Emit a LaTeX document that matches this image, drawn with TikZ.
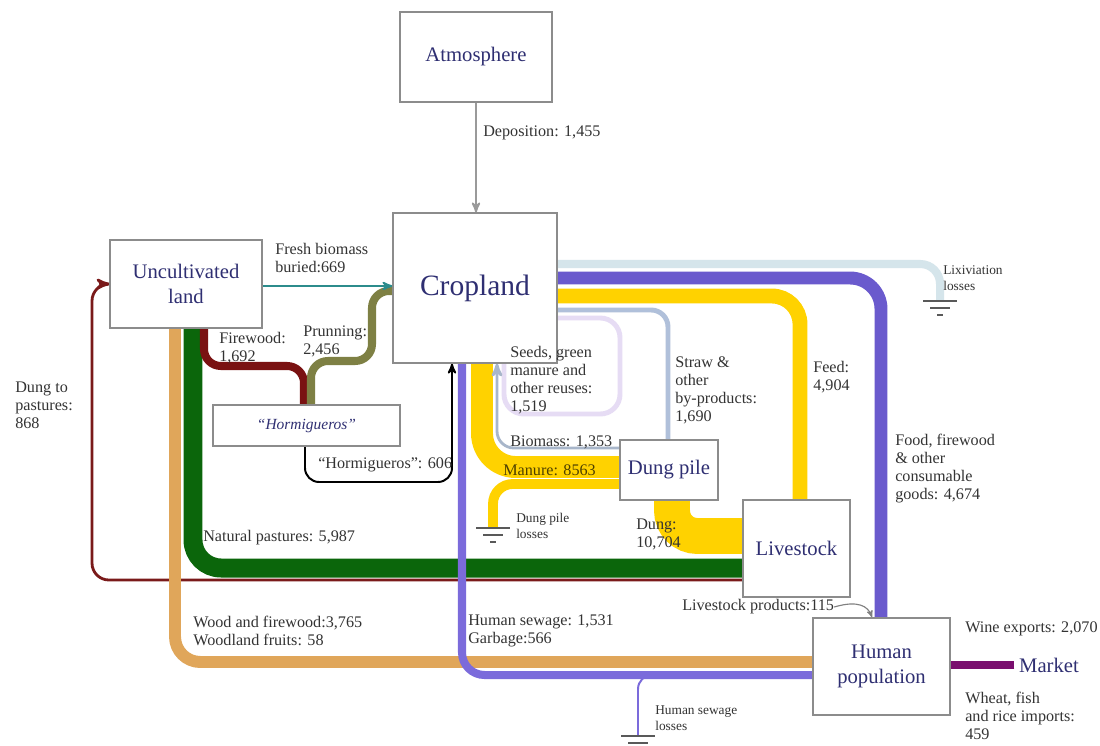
\documentclass[tikz,border=0pt]{standalone}
\usepackage{fontspec}
\setmainfont{Liberation Serif}
\usepackage{xcolor}
\usepackage{tikz}
\usetikzlibrary{arrows,backgrounds,positioning}

\definecolor{boxtext}{HTML}{2F2F72}
\definecolor{boxline}{HTML}{8C8C8C}
\definecolor{lbltext}{HTML}{333333}
\definecolor{manuretext}{HTML}{4D4000}
\definecolor{cDep}{HTML}{9A9A9A}
\definecolor{cTeal}{HTML}{2C8C8C}
\definecolor{cOlive}{HTML}{7E8044}
\definecolor{cMaroon}{HTML}{7A1212}
\definecolor{cDungRed}{HTML}{7A1A1A}
\definecolor{cGreen}{HTML}{0B660B}
\definecolor{cTan}{HTML}{E0A65A}
\definecolor{cPurple}{HTML}{6A5ACD}
\definecolor{cSewage}{HTML}{7B6BDB}
\definecolor{cLix}{HTML}{D5E5EB}
\definecolor{cGold}{HTML}{FFD200}
\definecolor{cStraw}{HTML}{B0C0DA}
\definecolor{cSeeds}{HTML}{E6DCF4}
\definecolor{cBiomass}{HTML}{A8B6CA}
\definecolor{cWine}{HTML}{7A0E6E}

\tikzset{earthsym/.pic={
    \draw[line width=1pt, black!65] (-17,0) -- (17,0) (-10,7) -- (10,7) (-3,14) -- (3,14);
  }}

\begin{document}
\begin{tikzpicture}[x=0.025cm, y=-0.025cm,
    >=stealth',
    every node/.style={text=lbltext}]
  \tikzstyle{block}=[draw=boxline, line width=0.9pt, fill=white, text=boxtext,
    font=\fontsize{14.7}{17.5}\selectfont, align=center, inner sep=0pt]
  \tikzstyle{lbl}=[anchor=west, inner sep=0pt, align=left, font=\fontsize{11.5}{12.8}\selectfont]
  \tikzstyle{lblsmall}=[lbl, font=\fontsize{9.5}{11}\selectfont]

  \useasboundingbox (0,0) rectangle (1100,745);

  \node (atm) [block, minimum width=3.8cm, minimum height=2.25cm] at (476,57) {Atmosphere};
  \node (crp) [block, minimum width=4.1cm, minimum height=3.75cm, font=\fontsize{21}{24}\selectfont] at (475,288) {Cropland};
  \node (unc) [block, minimum width=3.8cm, minimum height=2.2cm] at (186,284) {Uncultivated\\land};
  \node (hrm) [block, minimum width=4.675cm, minimum height=1.025cm, font=\fontsize{11}{13}\selectfont\itshape] at (306.5,425.5) {“Hormigueros”};
  \node (dgp) [block, minimum width=2.45cm, minimum height=1.5cm] at (669,470) {Dung pile};
  \node (lvs) [block, minimum width=2.675cm, minimum height=2.425cm] at (796.5,548.5) {Livestock};
  \node (hum) [block, minimum width=3.425cm, minimum height=2.425cm] at (881.5,666.5) {Human\\population};
  \node (mkt) [block, draw=none, fill=none, inner sep=3pt] at (1049,665) {Market};

  \coordinate (lixg) at (940,301);
  \coordinate (dplg) at (493,528);
  \coordinate (swb)  at (655,675);
  \coordinate (sewg) at (638,736);

  \node (ldep) [lbl] at (483,133) {Deposition: 1,455};
  \node (lfrs) [lbl] at (275,258) {Fresh biomass\\buried:669};
  \node (lfwd) [lbl] at (219,348) {Firewood:\\1,692};
  \node (lprn) [lbl] at (303,341) {Prunning:\\2,456};
  \node (ldtp) [lbl] at (15,405) {Dung to\\pastures:\\868};
  \node (lnat) [lbl] at (203,538) {Natural pastures: 5,987};
  \node (lhrm) [lbl] at (318,465) {“Hormigueros”: 606};
  \node (lwod) [lbl] at (193,631) {Wood and firewood:3,765\\Woodland fruits: 58};
  \node (lsew) [lbl] at (468,631) {Human sewage: 1,531\\Garbage:566};
  \node (lswl) [lblsmall] at (655,718) {Human sewage\\losses};
  \node (lsds) [lbl] at (510,380) {Seeds, green\\manure and\\other reuses:\\1,519};
  \node (lbio) [lbl] at (510,442) {Biomass: 1,353};
  \node (lman) [lbl, text=manuretext] at (503,470) {Manure: 8563};
  \node (ldpl) [lblsmall] at (516,526) {Dung pile\\losses};
  \node (ldng) [lbl] at (636,534) {Dung:\\10,704};
  \node (lstr) [lbl] at (675,390) {Straw \&\\other\\by-products:\\1,690};
  \node (lfed) [lbl] at (813,377) {Feed:\\4,904};
  \node (lfod) [lbl] at (895,469) {Food, firewood\\\& other\\consumable\\goods: 4,674};
  \node (llix) [lblsmall] at (943,278) {Lixiviation\\losses};
  \node (llvp) [lbl] at (682,607) {Livestock products:115};
  \node (lwin) [lbl] at (965,629) {Wine exports: 2,070};
  \node (lwht) [lbl] at (965,716) {Wheat, fish\\and rice imports:\\459};

  \pic at (lixg) {earthsym};
  \pic at (dplg) {earthsym};
  \pic at (sewg) {earthsym};

  \begin{pgfonlayer}{background}
    \fill[white] (0,0) rectangle (1100,745);
    \draw[->, cDep, line width=1.4pt] (atm.south) -- (atm.south |- crp.north);
    \draw[->, cDungRed, line width=2pt, rounded corners=12pt]
      (lvs.west |- 0,580) -- (92,580) -- (92,284) -- (unc.west |- 0,284);
    \draw[cTan, line width=8.5pt, rounded corners=18pt]
      (unc.south -| 175,0) -- (175,662) -- (hum.west |- 0,662);
    \draw[cGreen, line width=13.5pt, rounded corners=20pt]
      (unc.south -| 193,0) -- (193,568) -- (lvs.west |- 0,568);
    \draw[cMaroon, line width=5.7pt, rounded corners=12pt]
      (unc.south -| 204,0) -- (204,366) -- (304,366) -- (hrm.north -| 304,0);
    \draw[cOlive, line width=5.7pt, rounded corners=12pt]
      (hrm.north -| 311,0) -- (311,361) -- (372,361) -- (372,291) -- (crp.west |- 0,291);
    \draw[->, cTeal, line width=1.4pt] (unc.east |- 0,286) -- (crp.west |- 0,286);
    \draw[->, black, line width=1.4pt, rounded corners=10pt]
      (hrm.south -| 305,0) -- (305,482) -- (452,482) -- (crp.south -| 452,0);
    \draw[cPurple, line width=9.2pt, rounded corners=22pt]
      (crp.east |- 0,278) -- (881,278) -- (hum.north -| 881,0);
    \draw[cLix, line width=5.7pt, rounded corners=14pt]
      (crp.east |- 0,264) -- (940,264) -- (lixg);
    \draw[cGold, line width=10.6pt, rounded corners=20pt]
      (crp.east |- 0,296) -- (800,296) -- (lvs.north -| 800,0);
    \draw[cStraw, line width=3.5pt, rounded corners=12pt]
      (crp.east |- 0,310) -- (668,310) -- (dgp.north -| 668,0);
    \draw[cSeeds, line width=3.5pt, rounded corners=14pt]
      (crp.east |- 0,318) -- (620,318) -- (620,414) -- (504,414) -- (crp.south -| 504,0);
    \draw[cGold, line width=7pt, rounded corners=14pt]
      (dgp.west |- 0,484) -- (493,484) -- (dplg);
    \draw[cGold, line width=15.6pt, rounded corners=24pt]
      (dgp.west |- 0,467) -- (482,467) -- (crp.south -| 482,0);
    \draw[->, cBiomass, line width=2pt, rounded corners=12pt]
      (dgp.west |- 0,448) -- (497,448) -- (crp.south -| 497,0);
    \draw[cGold, line width=25.5pt, rounded corners=18pt]
      (lvs.west |- 0,536) -- (672,536) -- (dgp.south -| 672,0);
    \draw[cSewage, line width=5.7pt, rounded corners=16pt]
      (hum.west |- 0,675) -- (462,675) -- (crp.south -| 462,0);
    \draw[cSewage, line width=1.4pt, rounded corners=10pt] (swb) -- (638,675) -- (sewg);
    \draw[->, gray, line width=0.8pt] (llvp.east) .. controls (858,600) and (868,606) .. (hum.north -| 872,0);
    \draw[cWine, line width=5.7pt] (mkt.west) -- (hum.east |- mkt.west);
  \end{pgfonlayer}
\end{tikzpicture}
\end{document}
